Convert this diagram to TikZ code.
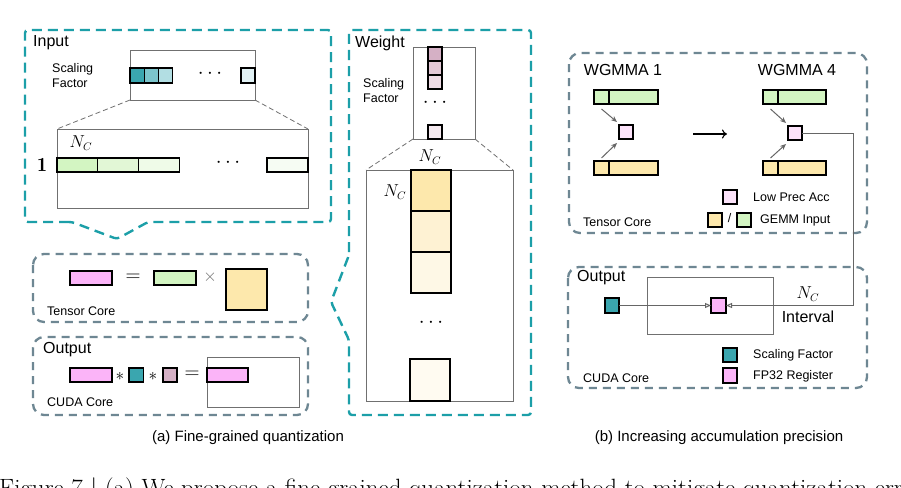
\documentclass[tikz,border=0pt]{standalone}
\usepackage{fontspec}
\newfontfamily\arial{Liberation Sans}
\usetikzlibrary{arrows.meta}
\definecolor{tealD}{HTML}{1C9FA8}
\definecolor{grayD}{HTML}{6E8793}
\definecolor{frameG}{HTML}{707070}
\definecolor{pinkC}{HTML}{FBB4F8}
\definecolor{lpinkC}{HTML}{FCE3FA}
\definecolor{greenC}{HTML}{D3F5C2}
\definecolor{gB}{HTML}{E2F7D6}
\definecolor{gC}{HTML}{EFFBE8}
\definecolor{gD}{HTML}{F6FCF3}
\definecolor{yelC}{HTML}{FDE8AC}
\definecolor{yB}{HTML}{FEF2D3}
\definecolor{yC}{HTML}{FEF8E6}
\definecolor{yD}{HTML}{FFFBF1}
\definecolor{tealC}{HTML}{3AA6AF}
\definecolor{tB}{HTML}{7CC5CC}
\definecolor{tC}{HTML}{B2DEE3}
\definecolor{tD}{HTML}{E1F1F4}
\definecolor{mauveC}{HTML}{D5B0C5}
\definecolor{mB}{HTML}{E3C8D6}
\definecolor{mC}{HTML}{EEDBE5}
\definecolor{mD}{HTML}{F4E9EF}
\definecolor{connG}{HTML}{666666}
\tikzset{
  tealdash/.style={draw=tealD, line width=2.4pt, dash pattern=on 10pt off 6pt, rounded corners=3pt},
  graydash/.style={draw=grayD, line width=2.3pt, dash pattern=on 8pt off 6pt, rounded corners=11pt},
  cell/.style={draw=black, line width=1.1pt, inner sep=0pt, outer sep=0pt, anchor=north west},
  grayframe/.style={draw=frameG, line width=0.9pt, inner sep=0pt, outer sep=0pt, fill=white, anchor=north west},
  zoomline/.style={draw=frameG, line width=0.8pt, dash pattern=on 5pt off 3pt},
  lbl/.style={font=\arial\fontsize{12.5}{15}\selectfont, inner sep=0pt, align=left},
  biglbl/.style={font=\arial\fontsize{16}{18}\selectfont, inner sep=0pt},
  mth/.style={font=\fontsize{16}{18}\selectfont, inner sep=0pt},
  dotsty/.style={font=\fontsize{20}{22}\selectfont, inner sep=0pt},
  garrow/.style={draw=connG, line width=1pt, -{Stealth[length=6pt,width=5pt]}},
  conn/.style={draw=connG, line width=1pt, -{Triangle[open,length=6pt,width=5pt]}},
  capt/.style={font=\arial\fontsize{15}{17}\selectfont, inner sep=0pt},
}
\begin{document}
\begin{tikzpicture}[x=1pt,y=-1pt]
\fill[white] (0,0) rectangle (901,487);
\useasboundingbox (0,0) rectangle (901,487);

% ---------------- Input panel ----------------
\draw[tealdash] (72,222) -- (25,222) -- (25,30) -- (331,30) -- (331,222) -- (148,222) -- (117,239) -- cycle;
\node[biglbl, anchor=west] (inlbl) at (33,43) {Input};
\node[lbl, anchor=west] (insf) at (52,76) {Scaling\\Factor};
\node[grayframe, minimum width=125, minimum height=50] (isfbox) at (130,50) {};
\node[cell, fill=tealC, minimum width=14.3, minimum height=15] (is1) at (130,68) {};
\node[cell, fill=tB, minimum width=14.3, minimum height=15] (is2) at (144.3,68) {};
\node[cell, fill=tC, minimum width=14.3, minimum height=15] (is3) at (158.6,68) {};
\node[dotsty] (isdots) at (210,74) {$\cdots$};
\node[cell, fill=tD, minimum width=14, minimum height=15] (is4) at (241,68) {};
\node[grayframe, minimum width=251, minimum height=79] (ibig) at (57,129) {};
\draw[zoomline] (isfbox.south west) -- (ibig.north west);
\draw[zoomline] (isfbox.south east) -- (ibig.north east);
\node[mth] (inc) at (81,143) {$N_C$};
\node[mth, font=\fontsize{20}{22}\selectfont] (ione) at (42,165) {$\mathbf{1}$};
\node[cell, fill=greenC, minimum width=40.7, minimum height=14] (ig1) at (57,158) {};
\node[cell, fill=gB, minimum width=40.7, minimum height=14] (ig2) at (97.7,158) {};
\node[cell, fill=gC, minimum width=40.7, minimum height=14] (ig3) at (138.4,158) {};
\node[dotsty] (igdots) at (228,163) {$\cdots$};
\node[cell, fill=gD, minimum width=41, minimum height=14] (ig4) at (267,158) {};

% ---------------- Weight panel ----------------
\draw[tealdash] (349,255) -- (349,30) -- (531,30) -- (531,415) -- (349,415) -- (349,340) -- (331,302) -- cycle;
\node[biglbl, anchor=west] (wlbl) at (355,43) {Weight};
\node[lbl, anchor=west] (wsf) at (363,90.5) {Scaling\\Factor};
\node[grayframe, minimum width=62, minimum height=92] (wsfbox) at (413,47) {};
\node[cell, fill=mauveC, minimum width=14, minimum height=14] (wm1) at (428,47) {};
\node[cell, fill=mB, minimum width=14, minimum height=14] (wm2) at (428,61) {};
\node[cell, fill=mC, minimum width=14, minimum height=14] (wm3) at (428,75) {};
\node[dotsty] (wmdots) at (435,103) {$\cdots$};
\node[cell, fill=mD, minimum width=14, minimum height=14] (wm4) at (428,125) {};
\node[grayframe, minimum width=147, minimum height=231] (wbig) at (366,170) {};
\draw[zoomline] (wsfbox.south west) -- (wbig.north west);
\draw[zoomline] (wsfbox.south east) -- (wbig.north east);
\node[mth] (wnct) at (430,157) {$N_C$};
\node[mth] (wncl) at (395,192) {$N_C$};
\node[cell, fill=yelC, minimum width=40, minimum height=41] (wy1) at (411,170) {};
\node[cell, fill=yB, minimum width=40, minimum height=41] (wy2) at (411,211) {};
\node[cell, fill=yC, minimum width=40, minimum height=41] (wy3) at (411,252) {};
\node[dotsty] (wydots) at (431,323) {$\cdots$};
\node[cell, fill=yD, minimum width=40, minimum height=42] (wy4) at (410,359) {};

% ---------------- Tensor Core (left) ----------------
\draw[graydash] (33,254) rectangle (308,322);
\node[cell, fill=pinkC, minimum width=42, minimum height=14] (tcp) at (70,271) {};
\node[mth, font=\fontsize{20}{22}\selectfont] (tceq) at (133,278) {$=$};
\node[cell, fill=greenC, minimum width=42, minimum height=14] (tcg) at (154,271) {};
\node[mth, text=frameG, font=\fontsize{18}{20}\selectfont] (tcx) at (210,277) {$\times$};
\node[cell, fill=yelC, minimum width=41, minimum height=41] (tcy) at (226,269) {};
\node[lbl, anchor=west] (tclbl) at (47,311) {Tensor Core};

% ---------------- Output (left) ----------------
\draw[graydash] (33,337) rectangle (308,415);
\node[biglbl, anchor=west] (olbl) at (43,350) {Output};
\node[cell, fill=pinkC, minimum width=42, minimum height=14] (op) at (70,368) {};
\node[mth] (oast1) at (120,376) {$*$};
\node[cell, fill=tealC, minimum width=14.5, minimum height=14] (ot) at (129,368) {};
\node[mth] (oast2) at (153,376) {$*$};
\node[cell, fill=mauveC, minimum width=14, minimum height=14] (om) at (163,368) {};
\node[mth, font=\fontsize{20}{22}\selectfont] (oeq) at (192,375) {$=$};
\node[grayframe, minimum width=92, minimum height=50] (ores) at (207,357) {};
\node[cell, fill=pinkC, minimum width=41, minimum height=14] (orp) at (207,368) {};
\node[lbl, anchor=west] (oclbl) at (47,402) {CUDA Core};

% ---------------- Right: Tensor Core ----------------
\draw[graydash] (569,53) rectangle (867,233);
\node[biglbl] (w1lbl) at (623,70) {WGMMA 1};
\node[biglbl] (w4lbl) at (797,70) {WGMMA 4};
\node[cell, fill=greenC, minimum width=15, minimum height=14] (g1a) at (594,90) {};
\node[cell, fill=greenC, minimum width=49, minimum height=14] (g1b) at (609,90) {};
\node[cell, fill=lpinkC, minimum width=14, minimum height=14] (a1) at (619,125) {};
\node[cell, fill=yelC, minimum width=15, minimum height=14] (y1a) at (594,161) {};
\node[cell, fill=yelC, minimum width=49, minimum height=14] (y1b) at (609,161) {};
\draw[garrow] ([shift={(0,5)}]g1a.south) -- ([shift={(-2,-3)}]a1.north west);
\draw[garrow] ([shift={(0,-3)}]y1a.north) -- ([shift={(-2,4)}]a1.south west);
\node[cell, fill=greenC, minimum width=15, minimum height=14] (g4a) at (763,90) {};
\node[cell, fill=greenC, minimum width=48, minimum height=14] (g4b) at (778,90) {};
\node[cell, fill=lpinkC, minimum width=14, minimum height=14] (a4) at (788,126) {};
\node[cell, fill=yelC, minimum width=15, minimum height=14] (y4a) at (763,161) {};
\node[cell, fill=yelC, minimum width=48, minimum height=14] (y4b) at (778,161) {};
\draw[garrow] ([shift={(0,5)}]g4a.south) -- ([shift={(-2,-3)}]a4.north west);
\draw[garrow] ([shift={(0,-3)}]y4a.north) -- ([shift={(-2,4)}]a4.south west);
\coordinate (m1) at (693,134);
\coordinate (m2) at (727,134);
\draw[line width=1.1pt, -{To[length=5pt,width=9pt]}] (m1) -- (m2);
\node[cell, fill=lpinkC, minimum width=14, minimum height=14] (lp) at (723,190) {};
\node[lbl, anchor=west] (lplbl) at (753,197) {Low Prec Acc};
\node[cell, fill=yelC, minimum width=14, minimum height=14] (ly) at (708,213) {};
\node[lbl] (lslash) at (729.5,218) {/};
\node[cell, fill=greenC, minimum width=14, minimum height=14] (lg) at (737,213) {};
\node[lbl, anchor=west] (lglbl) at (760,220) {GEMM Input};
\node[lbl, anchor=west] (rtclbl) at (583,222) {Tensor Core};

% ---------------- Right: Output ----------------
\draw[graydash] (568,267) rectangle (867,388);
\node[biglbl, anchor=west] (rolbl) at (577,278) {Output};
\node[grayframe, minimum width=126, minimum height=57] (ofr) at (647,277) {};
\node[cell, fill=tealC, minimum width=14, minimum height=15] (sf) at (605,298) {};
\node[cell, fill=pinkC, minimum width=15, minimum height=15] (fp) at (711,298) {};
\coordinate (bend) at (853,305.5);
\draw[conn] (a4.east) -| (bend) -- (fp.east);
\draw[conn] (sf.east) -- (fp.west);
\node[mth] (rnc) at (808,294) {$N_C$};
\node[biglbl] (rint) at (808,317) {Interval};
\node[cell, fill=tealC, minimum width=14, minimum height=14] (lsf) at (723,348) {};
\node[lbl, anchor=west] (lsflbl) at (753,355) {Scaling Factor};
\node[cell, fill=pinkC, minimum width=14, minimum height=15] (lfp) at (723,368) {};
\node[lbl, anchor=west] (lfplbl) at (753,376) {FP32 Register};
\node[lbl, anchor=west] (rcclbl) at (583,378) {CUDA Core};

% ---------------- Captions ----------------
\node[capt] (capa) at (248,438) {(a) Fine-grained quantization};
\node[capt] (capb) at (719,438) {(b) Increasing accumulation precision};
\node[anchor=base west, inner sep=0pt, font=\fontsize{25}{28}\selectfont] (figcap) at (-1,496) {Figure 7 | (a) We propose a fine-grained quantization method to mitigate quantization errors};
\end{tikzpicture}
\end{document}
